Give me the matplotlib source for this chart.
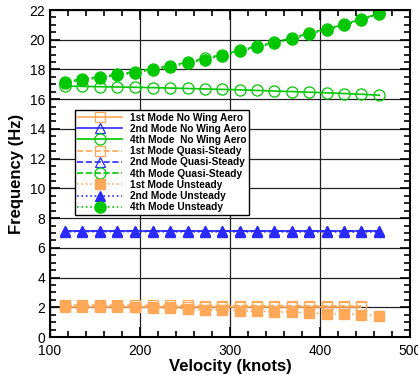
import matplotlib.pyplot as plt
from matplotlib.ticker import MultipleLocator

# ---------------- data ----------------
velocity = [117, 136, 156, 175, 194, 214, 233, 253, 272, 291,
            311, 330, 349, 369, 388, 408, 427, 446, 466]
velocity_short = velocity[:18]

mode1_nwa = [2.05] * 18
mode1_qs = [2.15, 2.15, 2.14, 2.14, 2.14, 2.13, 2.13, 2.13, 2.12, 2.12,
            2.12, 2.11, 2.11, 2.10, 2.10, 2.09, 2.09, 2.08]
mode1_uns = [2.11, 2.11, 2.09, 2.07, 2.04, 1.98, 1.93, 1.89, 1.84, 1.80,
             1.78, 1.73, 1.71, 1.67, 1.62, 1.58, 1.56, 1.51, 1.44]

mode2_nwa = [7.10] * 19
mode2_qs = [7.10] * 19
mode2_uns = [7.09, 7.09, 7.09, 7.09, 7.09, 7.09, 7.08, 7.08, 7.08, 7.08,
             7.08, 7.08, 7.08, 7.07, 7.07, 7.07, 7.07, 7.07, 7.07]

mode4_nwa = [16.88, 16.86, 16.84, 16.82, 16.80, 16.78, 16.75, 16.72, 16.69, 16.66,
             16.63, 16.59, 16.55, 16.51, 16.47, 16.43, 16.38, 16.33, 16.27]
mode4_qs = [17.18, 17.36, 17.51, 17.67, 17.85, 18.05, 18.25, 18.49, 18.74, 19.00,
            19.29, 19.56, 19.83, 20.11, 20.45, 20.74, 21.03, 21.40, 21.78]
mode4_uns = [17.11, 17.29, 17.44, 17.60, 17.78, 17.98, 18.18, 18.42, 18.67, 18.93,
             19.22, 19.49, 19.76, 20.04, 20.38, 20.67, 20.96, 21.33, 21.71]

ORANGE = "#ffa858"
BLUE = "#2a2aff"
GREEN = "#00c800"

plt.rcParams["font.family"] = ["Liberation Sans", "DejaVu Sans"]

fig = plt.figure(figsize=(4.18, 3.75), dpi=100)
ax = fig.add_axes([0.1196, 0.1013, 0.8612, 0.872])

# ---------------- series ----------------
ax.plot(velocity_short, mode1_nwa, "-", color=ORANGE, lw=1.2, marker="s", ms=7,
        mfc="none", mec=ORANGE, mew=0.9, label="1st Mode No Wing Aero")
ax.plot(velocity, mode2_nwa, "-", color=BLUE, lw=1.2, marker="^", ms=7,
        mfc="none", mec=BLUE, mew=0.9, label="2nd Mode No Wing Aero")
ax.plot(velocity, mode4_nwa, "-", color=GREEN, lw=1.2, marker="o", ms=8,
        mfc="none", mec=GREEN, mew=0.9, label="4th Mode  No Wing Aero")
ax.plot(velocity_short, mode1_qs, "--", color=ORANGE, lw=1.2, marker="s", ms=7,
        mfc="none", mec=ORANGE, mew=0.9, label="1st Mode Quasi-Steady")
ax.plot(velocity, mode2_qs, "--", color=BLUE, lw=1.2, marker="^", ms=7,
        mfc="none", mec=BLUE, mew=0.9, label="2nd Mode Quasi-Steady")
ax.plot(velocity, mode4_qs, "--", color=GREEN, lw=1.2, marker="o", ms=8,
        mfc="none", mec=GREEN, mew=0.9, label="4th Mode Quasi-Steady")
ax.plot(velocity, mode1_uns, ":", color=ORANGE, lw=1.2, marker="s", ms=7,
        mfc=ORANGE, mec=ORANGE, label="1st Mode Unsteady")
ax.plot(velocity, mode2_uns, ":", color=BLUE, lw=1.2, marker="^", ms=7,
        mfc=BLUE, mec=BLUE, label="2nd Mode Unsteady")
ax.plot(velocity, mode4_uns, ":", color=GREEN, lw=1.2, marker="o", ms=8,
        mfc=GREEN, mec=GREEN, label="4th Mode Unsteady")

# ---------------- axes ----------------
ax.set_xlim(100, 500)
ax.set_ylim(0, 22)
ax.xaxis.set_major_locator(MultipleLocator(100))
ax.xaxis.set_minor_locator(MultipleLocator(20))
ax.yaxis.set_major_locator(MultipleLocator(2))
ax.yaxis.set_minor_locator(MultipleLocator(0.5))
ax.tick_params(which="both", direction="in", top=True, right=True,
               labelsize=10, width=1.2, colors="black")
ax.tick_params(which="major", length=7)
ax.tick_params(which="minor", length=4)
ax.tick_params(axis="x", pad=5)
ax.grid(True, which="major", color="#222222", lw=0.9)
ax.set_axisbelow(True)
for s in ax.spines.values():
    s.set_linewidth(1.5)

ax.set_xlabel("Velocity (knots)", fontsize=12, fontweight="bold", labelpad=1)
ax.set_ylabel("Frequency (Hz)", fontsize=12, fontweight="bold", labelpad=4)

leg = ax.legend(loc="upper left", bbox_to_anchor=(0.069, 0.694), borderaxespad=0,
                prop={"weight": "bold", "size": 7.3}, handlelength=4.4,
                labelspacing=0.12, handletextpad=0.8, borderpad=0.25,
                fancybox=False, framealpha=1, edgecolor="black")
leg.get_frame().set_linewidth(1.0)

fig.savefig("out.png", dpi=100)
